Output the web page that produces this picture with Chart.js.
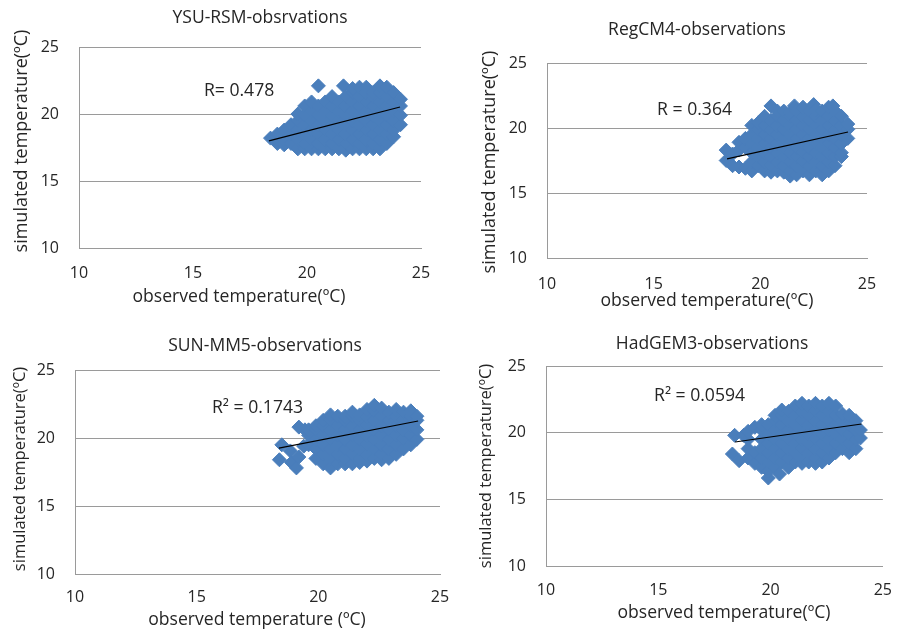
<!DOCTYPE html>
<html><head><meta charset="utf-8">
<script src="https://cdn.jsdelivr.net/npm/chart.js@4.4.0/dist/chart.umd.min.js"></script>
<style>
html,body{margin:0;padding:0;background:#fff;}
#wrap{position:relative;width:907px;height:630px;overflow:hidden;}
canvas{position:absolute;left:0;top:0;}
</style></head><body><div id="wrap">
<canvas id="c1" width="907" height="630"></canvas>
<canvas id="c2" width="907" height="630"></canvas>
<canvas id="c3" width="907" height="630"></canvas>
<canvas id="c4" width="907" height="630"></canvas>
</div>
<script>
// ---------------- DATA ----------------
const axisTicks = [10, 15, 20, 25];

const titles = ["YSU-RSM-obsrvations", "RegCM4-observations", "SUN-MM5-observations", "HadGEM3-observations"];
const xTitles = ["observed temperature(\u00BAC)", "observed temperature(\u00BAC)", "observed temperature (\u00BAC)", "observed temperature(\u00BAC)"];
const yTitle = "simulated temperature(\u00BAC)";
const notes = ["R= 0.478", "R = 0.364", "R\u00B2 = 0.1743", "R\u00B2 = 0.0594"];

// [observed, simulated]
const ysuPoints = [
 [18.4,18.2],
 [18.7,17.8],[18.7,18.5],
 [19.0,17.7],[19.0,18.1],[19.0,18.8],
 [19.3,17.8],[19.3,18.5],[19.3,19.2],
 [19.6,17.4],[19.6,18.1],[19.6,18.8],[19.6,19.5],[19.6,20.0],
 [19.9,17.4],[19.9,17.8],[19.9,18.5],[19.9,19.2],[19.9,19.9],[19.9,20.6],
 [20.2,17.4],[20.2,18.1],[20.2,18.8],[20.2,19.5],[20.2,20.2],[20.2,20.9],
 [20.5,17.4],[20.5,17.8],[20.5,18.5],[20.5,19.2],[20.5,19.9],[20.5,20.6],[20.5,22.1],
 [20.8,17.4],[20.8,18.1],[20.8,18.8],[20.8,19.5],[20.8,20.2],[20.8,20.9],
 [21.1,17.4],[21.1,17.8],[21.1,18.5],[21.1,19.2],[21.1,19.9],[21.1,20.6],[21.1,21.3],
 [21.4,17.4],[21.4,18.1],[21.4,18.8],[21.4,19.5],[21.4,20.2],[21.4,20.9],
 [21.6,22.1],
 [21.7,17.3],[21.7,17.8],[21.7,18.5],[21.7,19.2],[21.7,19.9],[21.7,20.6],[21.7,21.3],
 [22.0,17.4],[22.0,18.1],[22.0,18.8],[22.0,19.5],[22.0,20.2],[22.0,20.9],[22.0,21.6],[22.0,21.9],
 [22.3,17.4],[22.3,17.8],[22.3,18.5],[22.3,19.2],[22.3,19.9],[22.3,20.6],[22.3,21.3],[22.3,22.0],
 [22.6,17.4],[22.6,18.1],[22.6,18.8],[22.6,19.5],[22.6,20.2],[22.6,20.9],[22.6,21.6],[22.6,22.0],
 [22.9,17.4],[22.9,17.8],[22.9,18.5],[22.9,19.2],[22.9,19.9],[22.9,20.6],[22.9,21.3],[22.9,21.6],
 [23.2,17.4],[23.2,18.1],[23.2,18.8],[23.2,19.5],[23.2,20.2],[23.2,20.9],[23.2,21.6],[23.2,22.1],
 [23.5,17.8],[23.5,18.5],[23.5,19.2],[23.5,19.9],[23.5,20.6],[23.5,21.3],[23.5,22.0],
 [23.8,18.3],[23.8,18.8],[23.8,19.5],[23.8,20.2],[23.8,20.9],[23.8,21.6],
 [24.1,19.2],[24.1,19.9],[24.1,20.6],[24.1,21.1]
];
const ysuTrend = [[18.33,17.99],[24.08,20.52]];

const regPoints = [
 [18.4,17.5],[18.4,18.3],
 [18.7,17.1],[18.7,18.0],
 [19.0,17.0],[19.0,18.3],[19.0,18.9],
 [19.3,16.9],[19.3,18.5],[19.3,19.2],
 [19.6,16.7],[19.6,17.4],[19.6,18.1],[19.6,18.8],[19.6,19.5],[19.6,20.2],
 [19.9,17.1],[19.9,17.8],[19.9,18.5],[19.9,19.2],[19.9,19.9],[19.9,20.4],
 [20.2,16.7],[20.2,17.4],[20.2,18.1],[20.2,18.8],[20.2,19.5],[20.2,20.2],[20.2,20.9],
 [20.5,16.6],[20.5,17.1],[20.5,17.8],[20.5,18.5],[20.5,19.2],[20.5,19.9],[20.5,20.6],[20.5,21.7],
 [20.8,16.7],[20.8,17.4],[20.8,18.1],[20.8,18.8],[20.8,19.5],[20.8,20.2],[20.8,20.9],[20.8,21.3],
 [21.1,16.6],[21.1,17.1],[21.1,17.8],[21.1,18.5],[21.1,19.2],[21.1,19.9],[21.1,20.6],[21.1,21.3],
 [21.4,16.3],[21.4,16.7],[21.4,17.4],[21.4,18.1],[21.4,18.8],[21.4,19.5],[21.4,20.2],[21.4,20.9],[21.4,21.2],
 [21.6,21.7],
 [21.7,16.4],[21.7,17.1],[21.7,17.8],[21.7,18.5],[21.7,19.2],[21.7,19.9],[21.7,20.6],[21.7,21.3],
 [22.0,16.7],[22.0,17.4],[22.0,18.1],[22.0,18.8],[22.0,19.5],[22.0,20.2],[22.0,20.9],[22.0,21.6],
 [22.3,16.4],[22.3,17.1],[22.3,17.8],[22.3,18.5],[22.3,19.2],[22.3,19.9],[22.3,20.6],[22.3,21.3],
 [22.5,21.8],
 [22.6,16.7],[22.6,17.4],[22.6,18.1],[22.6,18.8],[22.6,19.5],[22.6,20.2],[22.6,20.9],[22.6,21.4],
 [22.9,16.4],[22.9,17.1],[22.9,17.8],[22.9,18.5],[22.9,19.2],[22.9,19.9],[22.9,20.6],[22.9,21.3],
 [23.2,16.7],[23.2,17.4],[23.2,18.1],[23.2,18.8],[23.2,19.5],[23.2,20.2],[23.2,20.9],[23.2,21.6],
 [23.4,21.7],
 [23.5,17.1],[23.5,17.8],[23.5,18.5],[23.5,19.2],[23.5,19.9],[23.5,20.6],[23.5,21.3],
 [23.8,17.8],[23.8,18.1],[23.8,18.8],[23.8,19.5],[23.8,20.2],[23.8,20.9],
 [24.1,19.2],[24.1,19.9],[24.1,20.3]
];
const regTrend = [[18.44,17.62],[24.11,19.69]];

const sunPoints = [
 [18.4,18.4],[18.5,19.5],[18.85,19.05],[18.9,18.2],[19.1,17.8],[19.2,18.6],
 [19.2,20.8],[19.45,20.6],[19.4,19.4],
 [19.6,19.5],[19.6,20.2],[19.6,20.6],
 [19.9,18.5],[19.9,19.2],[19.9,19.9],[19.9,20.6],[19.9,20.9],
 [20.2,18.1],[20.2,18.8],[20.2,19.5],[20.2,20.2],[20.2,20.9],[20.2,21.3],
 [20.5,17.8],[20.5,18.5],[20.5,19.2],[20.5,19.9],[20.5,20.6],[20.5,21.3],[20.5,21.7],
 [20.8,18.1],[20.8,18.8],[20.8,19.5],[20.8,20.2],[20.8,20.9],[20.8,21.6],
 [21.1,18.1],[21.1,18.5],[21.1,19.2],[21.1,19.9],[21.1,20.6],[21.1,21.3],[21.1,21.6],
 [21.4,18.1],[21.4,18.8],[21.4,19.5],[21.4,20.2],[21.4,20.9],[21.4,21.6],[21.4,21.9],
 [21.7,18.2],[21.7,18.5],[21.7,19.2],[21.7,19.9],[21.7,20.6],[21.7,21.3],[21.7,21.7],
 [22.0,18.3],[22.0,18.8],[22.0,19.5],[22.0,20.2],[22.0,20.9],[22.0,21.6],[22.0,22.1],
 [22.3,18.5],[22.3,19.2],[22.3,19.9],[22.3,20.6],[22.3,21.3],[22.3,22.0],[22.3,22.4],
 [22.6,18.4],[22.6,18.8],[22.6,19.5],[22.6,20.2],[22.6,20.9],[22.6,21.6],[22.6,22.2],
 [22.9,18.5],[22.9,19.2],[22.9,19.9],[22.9,20.6],[22.9,21.3],[22.9,21.9],
 [23.2,18.8],[23.2,19.5],[23.2,20.2],[23.2,20.9],[23.2,21.6],[23.2,22.1],
 [23.5,19.2],[23.5,19.9],[23.5,20.6],[23.5,21.3],[23.5,21.9],
 [23.8,19.5],[23.8,20.2],[23.8,20.9],[23.8,21.6],[23.8,22.0],
 [24.05,19.9],[24.05,20.6],[24.05,21.3],[24.05,21.6]
];
const sunTrend = [[18.38,19.26],[24.1,21.25]];

const hadPoints = [
 [18.4,19.8],[18.3,18.4],[18.6,17.9],[18.8,19.8],
 [19.0,18.1],[19.0,18.8],[19.0,19.5],[19.0,20.1],
 [19.3,17.7],[19.3,18.5],[19.3,20.4],
 [19.6,17.4],[19.6,18.1],[19.6,18.8],[19.6,19.5],[19.6,20.2],[19.6,20.6],
 [19.9,16.6],[19.9,17.1],[19.9,17.8],[19.9,18.5],[19.9,19.2],[19.9,19.9],[19.9,20.6],
 [20.2,17.4],[20.2,18.1],[20.2,18.8],[20.2,19.5],[20.2,20.2],[20.2,20.9],[20.2,21.3],
 [20.4,16.9],
 [20.5,17.8],[20.5,18.5],[20.5,19.2],[20.5,19.9],[20.5,20.6],[20.5,21.3],[20.5,21.7],
 [20.8,17.4],[20.8,18.1],[20.8,18.8],[20.8,19.5],[20.8,20.2],[20.8,20.9],[20.8,21.6],
 [21.1,17.8],[21.1,18.5],[21.1,19.2],[21.1,19.9],[21.1,20.6],[21.1,21.3],[21.1,22.0],
 [21.4,17.7],[21.4,18.1],[21.4,18.8],[21.4,19.5],[21.4,20.2],[21.4,20.9],[21.4,21.6],[21.4,22.2],
 [21.7,17.8],[21.7,18.5],[21.7,19.2],[21.7,19.9],[21.7,20.6],[21.7,21.3],[21.7,22.0],
 [22.0,17.7],[22.0,18.1],[22.0,18.8],[22.0,19.5],[22.0,20.2],[22.0,20.9],[22.0,21.6],[22.0,22.2],
 [22.3,17.8],[22.3,18.5],[22.3,19.2],[22.3,19.9],[22.3,20.6],[22.3,21.3],[22.3,22.0],
 [22.6,18.1],[22.6,18.8],[22.6,19.5],[22.6,20.2],[22.6,20.9],[22.6,21.6],[22.6,22.2],
 [22.9,18.5],[22.9,19.2],[22.9,19.9],[22.9,20.6],[22.9,21.3],[22.9,22.0],
 [23.2,18.8],[23.2,19.5],[23.2,20.2],[23.2,20.9],[23.2,21.4],
 [23.5,18.5],[23.5,19.2],[23.5,19.9],[23.5,20.6],[23.5,21.3],
 [23.8,18.8],[23.8,19.5],[23.8,20.2],[23.8,20.9],
 [24.0,19.6],[24.0,20.2]
];
const hadTrend = [[18.42,19.3],[24.05,20.65]];

// note anchor positions in data units [observed, simulated]
const noteAnchors = [[15.48,21.72],[15.16,21.38],[15.63,22.2],[14.81,22.75]];

// ---------------- LAYOUT (pixels / styles) ----------------
const panels = [
 {id:'c1', plot:{l:79,r:421,t:47,b:248}, title:[260,18], xt:[239,297], yt:[22,141], ytSize:18, tickPadX:16, pts:ysuPoints, trend:ysuTrend},
 {id:'c2', plot:{l:547,r:867,t:63,b:258}, title:[697,30], xt:[707,301], yt:[490,162], ytSize:18, tickPadX:17, pts:regPoints, trend:regTrend},
 {id:'c3', plot:{l:75,r:440,t:370,b:574}, title:[265,346], xt:[257,620], yt:[20,469], ytSize:16.5, tickPadX:14, pts:sunPoints, trend:sunTrend},
 {id:'c4', plot:{l:546,r:895,t:366,b:566}, title:[712,344], xt:[724,613], yt:[486,466], ytSize:16.5, tickPadX:15, pts:hadPoints, trend:hadTrend}
];

const FONT = '"Open Sans", Lato, sans-serif';
const TEXT = '#262626';
const GRID = '#9a9a9a';
const BLUE = '#4A7EBB';
const YW = 40, XH = 40;

const textPlugin = {
  id: 'panelText',
  afterDraw(chart, args, o) {
    const ctx = chart.ctx;
    ctx.save();
    ctx.fillStyle = TEXT;
    ctx.textBaseline = 'middle';
    ctx.textAlign = 'center';
    ctx.font = '17.5px ' + FONT;
    ctx.fillText(o.title, o.titlePos[0], o.titlePos[1]);
    ctx.font = '17.6px ' + FONT;
    ctx.fillText(o.xTitle, o.xtPos[0], o.xtPos[1]);
    ctx.save();
    ctx.translate(o.ytPos[0], o.ytPos[1]);
    ctx.rotate(-Math.PI/2);
    ctx.font = o.ytSize + 'px ' + FONT;
    ctx.fillText(o.yTitle, 0, 0);
    ctx.restore();
    ctx.textAlign = 'left';
    ctx.font = '17.6px ' + FONT;
    const nx = chart.scales.x.getPixelForValue(o.anchor[0]);
    const ny = chart.scales.y.getPixelForValue(o.anchor[1]);
    ctx.fillText(o.note, nx, ny);
    ctx.restore();
  }
};

panels.forEach((p, i) => {
  const ticksFix = (s) => { s.ticks = axisTicks.map(v => ({value: v})); };
  new Chart(document.getElementById(p.id), {
    type: 'scatter',
    data: {
      datasets: [
        {
          type: 'line',
          data: p.trend.map(d => ({x: d[0], y: d[1]})),
          borderColor: '#000', borderWidth: 1.2, pointRadius: 0,
          fill: false, order: 0, tension: 0
        },
        {
          data: p.pts.map(d => ({x: d[0], y: d[1]})),
          pointStyle: 'rectRot', pointRadius: 7, pointHoverRadius: 7,
          backgroundColor: BLUE, borderColor: BLUE, borderWidth: 1, order: 1
        }
      ]
    },
    options: {
      responsive: false, animation: false, devicePixelRatio: 1,
      events: [],
      layout: {padding: {left: p.plot.l - YW, right: 907 - p.plot.r, top: p.plot.t, bottom: 630 - p.plot.b - XH}},
      plugins: {
        legend: {display: false}, tooltip: {enabled: false}, title: {display: false},
        panelText: {title: titles[i], xTitle: xTitles[i], yTitle: yTitle, note: notes[i],
          titlePos: p.title, xtPos: p.xt, ytPos: p.yt, ytSize: p.ytSize, anchor: noteAnchors[i]}
      },
      scales: {
        x: {
          type: 'linear', min: 10, max: 25,
          afterBuildTicks: ticksFix,
          afterFit: (s) => { s.height = XH; },
          grid: {display: false, drawTicks: false},
          border: {display: true, color: GRID, width: 1},
          ticks: {padding: p.tickPadX, color: TEXT, font: {family: FONT, size: 16}, maxRotation: 0}
        },
        y: {
          type: 'linear', min: 10, max: 25,
          afterBuildTicks: ticksFix,
          afterFit: (s) => { s.width = YW; },
          grid: {display: true, drawTicks: false, color: GRID, lineWidth: 1},
          border: {display: true, color: GRID, width: 1},
          ticks: {padding: 20, color: TEXT, font: {family: FONT, size: 16}}
        }
      }
    },
    plugins: [textPlugin]
  });
});
</script>
</body></html>
